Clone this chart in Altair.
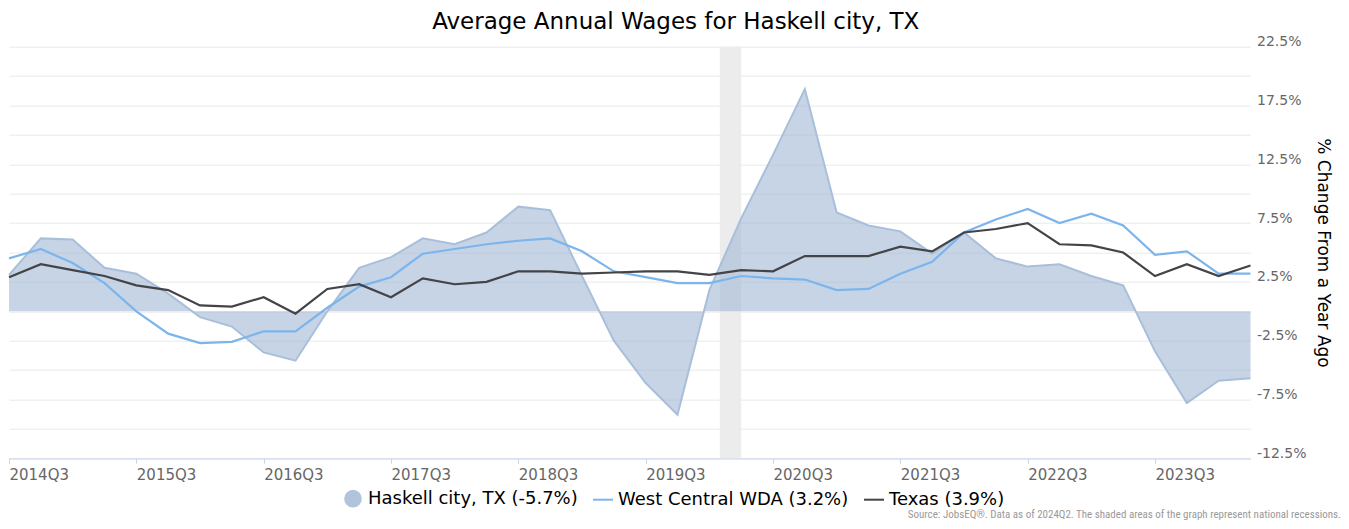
import json
import altair as alt
import pandas as pd

quarters = [
    "2014Q3", "2014Q4", "2015Q1", "2015Q2", "2015Q3", "2015Q4", "2016Q1", "2016Q2",
    "2016Q3", "2016Q4", "2017Q1", "2017Q2", "2017Q3", "2017Q4", "2018Q1", "2018Q2",
    "2018Q3", "2018Q4", "2019Q1", "2019Q2", "2019Q3", "2019Q4", "2020Q1", "2020Q2",
    "2020Q3", "2020Q4", "2021Q1", "2021Q2", "2021Q3", "2021Q4", "2022Q1", "2022Q2",
    "2022Q3", "2022Q4", "2023Q1", "2023Q2", "2023Q3", "2023Q4", "2024Q1", "2024Q2",
]

haskell = [3.1, 6.2, 6.1, 3.7, 3.2, 1.5, -0.5, -1.3, -3.5, -4.2,
           0.0, 3.7, 4.6, 6.2, 5.7, 6.7, 8.9, 8.6, 3.0, -2.5,
           -6.1, -8.8, 1.8, 7.9, 13.3, 18.9, 8.4, 7.3, 6.8, 4.9,
           6.7, 4.5, 3.8, 4.0, 3.0, 2.2, -3.4, -7.8, -5.9, -5.7]
wda = [4.5, 5.3, 4.1, 2.4, 0.0, -1.9, -2.7, -2.6, -1.7, -1.7,
       0.3, 2.1, 2.9, 4.9, 5.3, 5.7, 6.0, 6.2, 5.1, 3.4,
       2.9, 2.4, 2.4, 3.0, 2.8, 2.7, 1.8, 1.9, 3.2, 4.2,
       6.7, 7.8, 8.7, 7.5, 8.3, 7.3, 4.8, 5.1, 3.2, 3.2]
texas = [2.9, 4.0, 3.5, 3.0, 2.2, 1.8, 0.5, 0.4, 1.2, -0.2,
         1.9, 2.3, 1.2, 2.8, 2.3, 2.5, 3.4, 3.4, 3.2, 3.3,
         3.4, 3.4, 3.1, 3.5, 3.4, 4.7, 4.7, 4.7, 5.5, 5.1,
         6.7, 7.0, 7.5, 5.7, 5.6, 5.0, 3.0, 4.0, 3.0, 3.9]

series_names = ["Haskell city, TX", "West Central WDA", "Texas"]
series_colors = ["#a3bad6", "#7cb5ec", "#434348"]

# national recession, in quarter-index units (Feb 2020 - Apr 2020)
recession_start = [22.33]
recession_end = [23.0]

y_ticks = [-12.5, -10, -7.5, -5, -2.5, 0, 2.5, 5, 7.5, 10, 12.5, 15, 17.5, 20, 22.5]

title_text = "Average Annual Wages for Haskell city, TX"
y_title = "% Change From a Year Ago"
source_text = "Source: JobsEQ\u00ae. Data as of 2024Q2. The shaded areas of the graph represent national recessions."

W, H = 1241.5, 411.6
FONT = "DejaVu Sans"

labels = [f"{n} ({v[-1]:.1f}%)" for n, v in zip(series_names, [haskell, wda, texas])]

df = pd.DataFrame({"idx": list(range(len(quarters))), "quarter": quarters, "value": haskell,
                   "series": labels[0]})
lines_df = pd.concat([
    pd.DataFrame({"idx": list(range(len(quarters))), "value": wda, "series": labels[1]}),
    pd.DataFrame({"idx": list(range(len(quarters))), "value": texas, "series": labels[2]}),
])
rec_df = pd.DataFrame({"start": recession_start, "end": recession_end})

x_scale = alt.Scale(domain=[0, len(quarters) - 1], nice=False, zero=False)
x_axis = alt.Axis(
    values=[i for i, q in enumerate(quarters) if q.endswith("Q3")],
    labelExpr=f"{json.dumps(quarters)}[datum.value]",
    title=None, grid=False, domainColor="#ccd6eb", tickColor="#ccd6eb", tickSize=5,
    labelAlign="left", labelColor="#666666", labelFontSize=15, labelFont=FONT,
    labelPadding=4, labelFlush=False, labelOverlap=False,
)
y_scale = alt.Scale(domain=[y_ticks[0], y_ticks[-1]], nice=False, zero=False)
y_axis = alt.Axis(
    orient="right", values=y_ticks,
    labelExpr="abs(datum.value % 5) == 2.5 ? datum.value + '%' : ''",
    title=y_title, titleFont=FONT, titleFontSize=17, titleFontWeight="normal",
    titleColor="#000000", titlePadding=7,
    grid=True, gridColor="#e9e9e9", domain=False, ticks=False,
    labelColor="#666666", labelFontSize=14, labelFont=FONT, labelPadding=6,
    labelOffset=-5, labelOverlap=False, labelFlush=False,
)

band = alt.Chart(rec_df).mark_rect(color="#ececec").encode(
    x=alt.X("start:Q", scale=x_scale, axis=x_axis),
    x2="end:Q",
    y=alt.Y(datum=y_ticks[-1], scale=y_scale, axis=y_axis),
    y2=alt.Y2(datum=y_ticks[0]),
)

area = alt.Chart(df).mark_area(opacity=0.62).encode(
    x=alt.X("idx:Q", scale=x_scale, axis=x_axis),
    y=alt.Y("value:Q", scale=y_scale, axis=y_axis),
    fill=alt.Fill("series:N", scale=alt.Scale(domain=[labels[0]], range=[series_colors[0]]),
                  legend=alt.Legend(orient="none", legendX=334, legendY=442, title=None,
                                    symbolType="circle", symbolSize=314, symbolOpacity=0.85,
                                    labelFont=FONT, labelFontSize=18, labelColor="#000000",
                                    labelOffset=5, padding=0, labelLimit=400)),
)

outline = alt.Chart(df).mark_line(color="#a9bfd9", strokeWidth=2).encode(
    x=alt.X("idx:Q", scale=x_scale, axis=x_axis),
    y=alt.Y("value:Q", scale=y_scale, axis=y_axis),
)

lines = alt.Chart(lines_df).mark_line(strokeWidth=2.2).encode(
    x=alt.X("idx:Q", scale=x_scale, axis=x_axis),
    y=alt.Y("value:Q", scale=y_scale, axis=y_axis),
    stroke=alt.Stroke("series:N", scale=alt.Scale(domain=labels[1:], range=series_colors[1:]),
                      legend=alt.Legend(orient="none", legendX=583, legendY=442, title=None,
                                        direction="horizontal", symbolType="stroke",
                                        symbolSize=400, symbolStrokeWidth=2,
                                        labelFont=FONT, labelFontSize=18, labelColor="#000000",
                                        labelOffset=4, columnPadding=11, padding=0,
                                        labelLimit=400)),
    detail="series:N",
)

source = alt.Chart(pd.DataFrame({"t": [source_text]})).mark_text(
    align="right", baseline="middle", font="Liberation Sans Narrow, Roboto Condensed, Roboto",
    fontSize=11, color="#999999",
).encode(text="t:N", x=alt.value(1332), y=alt.value(468.5))

chart = alt.layer(band, area, outline, lines, source).properties(
    width=W, height=H,
    autosize=alt.AutoSizeParams(type="none"),
    padding={"left": 1, "top": 38.7, "right": 90, "bottom": 62},
    title=alt.TitleParams(text=title_text, font=FONT, fontSize=23, fontWeight="normal",
                          color="#000000", anchor="middle", dx=46, offset=1),
).resolve_scale(fill="independent", stroke="independent").configure_view(stroke=None)

chart.save("out.html", embed_options={"renderer": "svg", "actions": False})
